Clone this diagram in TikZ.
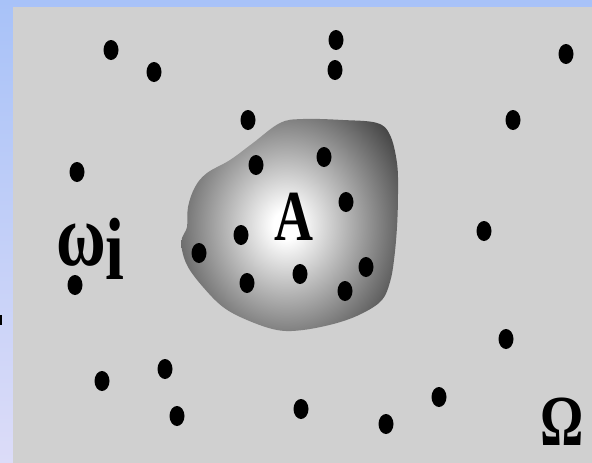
\documentclass[tikz,border=0pt]{standalone}
\usepackage{graphicx}
\usepackage{fontspec}
\setmainfont{Liberation Serif}
\pgfdeclareradialshading{blobshade}{\pgfpoint{0bp}{0bp}}{color(0bp)=(white); color(2bp)=(white); color(22bp)=(black!78); color(31bp)=(black!88); color(70bp)=(black!88)}
\definecolor{bgtop}{HTML}{A8C2F8}
\definecolor{bgbot}{HTML}{DCDCF8}
\definecolor{panel}{HTML}{D0D0D0}
\begin{document}
\begin{tikzpicture}[x=1pt,y=-1pt,
  dot/.style={fill=black},
  bigtext/.style={inner sep=0pt, font=\bfseries\fontsize{54}{54}\selectfont}]
\useasboundingbox (0,0) rectangle (592,463);
\shade[top color=bgtop, bottom color=bgbot] (0,0) rectangle (592,463);
\fill[panel] (13,7) rectangle (592,463);
\fill[black] (0,315) rectangle (2,325);
% blob
\begin{scope}
\clip plot[smooth cycle, tension=0.6] coordinates {(280,123) (303,119) (343,120) (377,123) (390,135) (397,163) (398,193) (397,227) (394,260) (390,282) (382,300) (363,313) (337,323) (303,330) (277,330) (247,320) (223,307) (203,287) (188,267) (182,250) (182,238) (187,227) (188,207) (195,187) (207,173) (230,160) (253,143)};
\shade[shading=blobshade] (286,225) ellipse [x radius=160pt, y radius=180pt];
\end{scope}
% dots
\foreach \x/\y in {111/50, 154/72, 336/40, 335/70, 566/54, 513/120, 248/120, 77/172,
  256/165, 324/157, 346/202, 241/235, 199/253, 247/283, 300/274, 366/267, 345/291,
  484/231, 75/285, 506/339, 102/381, 165/369, 177/416, 301/409, 386/424, 439/397}
  \fill[dot] (\x,\y) ellipse [x radius=7.5pt, y radius=10pt];
% labels
\node[bigtext, anchor=base] (A) at (294,240) {\scalebox{1}[1.33]{A}};
\node[bigtext, anchor=base west, font=\bfseries\fontsize{68}{68}\selectfont] (omega) at (56,265) {\scalebox{1}[1.3]{ω\raisebox{-11pt}{i}}};
\node[bigtext, anchor=base] (Omega) at (562,445) {\scalebox{1}[1.33]{Ω}};
\end{tikzpicture}
\end{document}
